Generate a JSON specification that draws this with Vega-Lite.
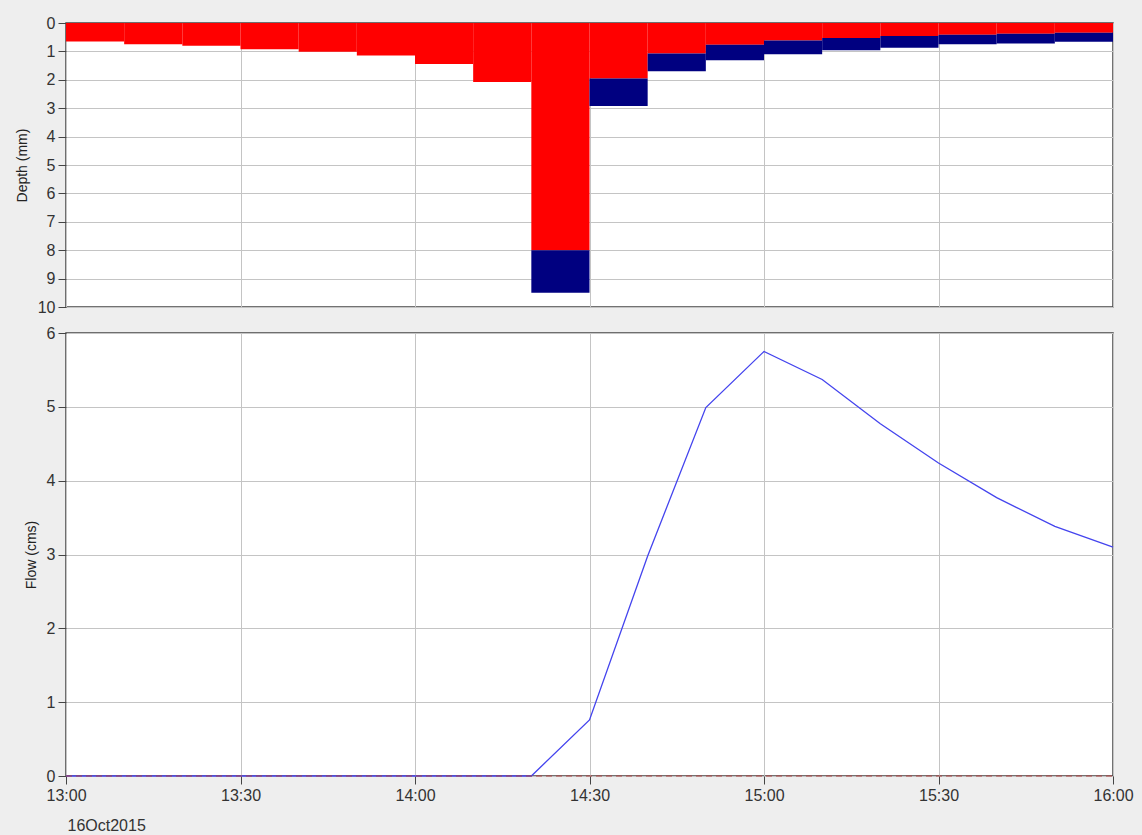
{
  "$schema": "https://vega.github.io/schema/vega-lite/v6.json",
  "background": "#eeeeee",
  "padding": {"left": 14, "top": 14, "right": 12, "bottom": 2},
  "spacing": 8,
  "config": {
    "font": "Liberation Sans",
    "view": {"fill": "white", "stroke": "#444444", "strokeWidth": 1.5},
    "axis": {
      "labelFont": "Liberation Sans",
      "labelFontSize": 16,
      "labelColor": "#333333",
      "labelOverlap": false,
      "titleFont": "Liberation Sans",
      "titleFontSize": 14,
      "titleFontWeight": "normal",
      "titleColor": "#222222",
      "gridColor": "#c4c4c4",
      "gridWidth": 1,
      "domain": false,
      "tickColor": "#444444",
      "tickSize": 8
    }
  },
  "datasets": {
    "rain": [
      {"start": "2015-10-16 13:00", "end": "2015-10-16 13:10", "loss": 0.65, "total": 0.65},
      {"start": "2015-10-16 13:10", "end": "2015-10-16 13:20", "loss": 0.75, "total": 0.75},
      {"start": "2015-10-16 13:20", "end": "2015-10-16 13:30", "loss": 0.80, "total": 0.80},
      {"start": "2015-10-16 13:30", "end": "2015-10-16 13:40", "loss": 0.92, "total": 0.92},
      {"start": "2015-10-16 13:40", "end": "2015-10-16 13:50", "loss": 1.01, "total": 1.01},
      {"start": "2015-10-16 13:50", "end": "2015-10-16 14:00", "loss": 1.14, "total": 1.14},
      {"start": "2015-10-16 14:00", "end": "2015-10-16 14:10", "loss": 1.44, "total": 1.44},
      {"start": "2015-10-16 14:10", "end": "2015-10-16 14:20", "loss": 2.08, "total": 2.08},
      {"start": "2015-10-16 14:20", "end": "2015-10-16 14:30", "loss": 8.00, "total": 9.50},
      {"start": "2015-10-16 14:30", "end": "2015-10-16 14:40", "loss": 1.95, "total": 2.92},
      {"start": "2015-10-16 14:40", "end": "2015-10-16 14:50", "loss": 1.07, "total": 1.70},
      {"start": "2015-10-16 14:50", "end": "2015-10-16 15:00", "loss": 0.77, "total": 1.31},
      {"start": "2015-10-16 15:00", "end": "2015-10-16 15:10", "loss": 0.62, "total": 1.10},
      {"start": "2015-10-16 15:10", "end": "2015-10-16 15:20", "loss": 0.53, "total": 0.96},
      {"start": "2015-10-16 15:20", "end": "2015-10-16 15:30", "loss": 0.46, "total": 0.87},
      {"start": "2015-10-16 15:30", "end": "2015-10-16 15:40", "loss": 0.41, "total": 0.75},
      {"start": "2015-10-16 15:40", "end": "2015-10-16 15:50", "loss": 0.38, "total": 0.72},
      {"start": "2015-10-16 15:50", "end": "2015-10-16 16:00", "loss": 0.34, "total": 0.66}
    ],
    "flow": [
      {"time": "2015-10-16 13:00", "flow": 0, "observed": 0},
      {"time": "2015-10-16 13:10", "flow": 0, "observed": 0},
      {"time": "2015-10-16 13:20", "flow": 0, "observed": 0},
      {"time": "2015-10-16 13:30", "flow": 0, "observed": 0},
      {"time": "2015-10-16 13:40", "flow": 0, "observed": 0},
      {"time": "2015-10-16 13:50", "flow": 0, "observed": 0},
      {"time": "2015-10-16 14:00", "flow": 0, "observed": 0},
      {"time": "2015-10-16 14:10", "flow": 0, "observed": 0},
      {"time": "2015-10-16 14:20", "flow": 0, "observed": 0},
      {"time": "2015-10-16 14:30", "flow": 0.76, "observed": 0},
      {"time": "2015-10-16 14:40", "flow": 2.98, "observed": 0},
      {"time": "2015-10-16 14:50", "flow": 4.99, "observed": 0},
      {"time": "2015-10-16 15:00", "flow": 5.75, "observed": 0},
      {"time": "2015-10-16 15:10", "flow": 5.37, "observed": 0},
      {"time": "2015-10-16 15:20", "flow": 4.77, "observed": 0},
      {"time": "2015-10-16 15:30", "flow": 4.24, "observed": 0},
      {"time": "2015-10-16 15:40", "flow": 3.77, "observed": 0},
      {"time": "2015-10-16 15:50", "flow": 3.38, "observed": 0},
      {"time": "2015-10-16 16:00", "flow": 3.10, "observed": 0}
    ]
  },
  "vconcat": [
    {
      "width": 1047,
      "height": 284,
      "data": {"name": "rain"},
      "encoding": {
        "x": {
          "field": "start", "type": "temporal",
          "scale": {"domain": [{"year": 2015, "month": 10, "date": 16, "hours": 13}, {"year": 2015, "month": 10, "date": 16, "hours": 16}]},
          "axis": {"title": null, "labels": false, "ticks": false, "grid": true,
            "values": [{"year": 2015, "month": 10, "date": 16, "hours": 13}, {"year": 2015, "month": 10, "date": 16, "hours": 13, "minutes": 30}, {"year": 2015, "month": 10, "date": 16, "hours": 14}, {"year": 2015, "month": 10, "date": 16, "hours": 14, "minutes": 30}, {"year": 2015, "month": 10, "date": 16, "hours": 15}, {"year": 2015, "month": 10, "date": 16, "hours": 15, "minutes": 30}, {"year": 2015, "month": 10, "date": 16, "hours": 16}]}
        },
        "x2": {"field": "end"},
        "y": {
          "field": "loss", "type": "quantitative",
          "scale": {"domain": [0, 10], "reverse": true},
          "axis": {"title": "Depth (mm)", "values": [0,1,2,3,4,5,6,7,8,9,10], "tickCount": 11, "labelOverlap": false, "format": "d", "labelPadding": 3, "titlePadding": 8}
        }
      },
      "layer": [
        {
          "mark": {"type": "rect", "color": "#ff0000"},
          "encoding": {
            "y2": {"datum": 0}
          }
        },
        {
          "mark": {"type": "rect", "color": "#000080"},
          "encoding": {
            "y2": {"field": "total"}
          }
        }
      ]
    },
    {
      "width": 1047,
      "height": 443,
      "data": {"name": "flow"},
      "encoding": {
        "x": {
          "field": "time", "type": "temporal",
          "scale": {"domain": [{"year": 2015, "month": 10, "date": 16, "hours": 13}, {"year": 2015, "month": 10, "date": 16, "hours": 16}]},
          "axis": {"title": "16Oct2015", "format": "%H:%M",
            "values": [{"year": 2015, "month": 10, "date": 16, "hours": 13}, {"year": 2015, "month": 10, "date": 16, "hours": 13, "minutes": 30}, {"year": 2015, "month": 10, "date": 16, "hours": 14}, {"year": 2015, "month": 10, "date": 16, "hours": 14, "minutes": 30}, {"year": 2015, "month": 10, "date": 16, "hours": 15}, {"year": 2015, "month": 10, "date": 16, "hours": 15, "minutes": 30}, {"year": 2015, "month": 10, "date": 16, "hours": 16}],
            "labelPadding": 3, "labelFlush": false, "titleAnchor": "start", "titleAlign": "left", "titleX": 1, "titleY": 54, "titleBaseline": "alphabetic", "titleFontSize": 16, "titleColor": "#333333"}
        }
      },
      "layer": [
        {
          "mark": {"type": "line", "color": "#4444ee", "strokeWidth": 1.3},
          "encoding": {
            "y": {
              "field": "flow", "type": "quantitative",
              "scale": {"domain": [0, 6]},
              "axis": {"title": "Flow (cms)", "values": [0,1,2,3,4,5,6], "format": "d", "labelPadding": 3, "titlePadding": 8}
            }
          }
        },
        {
          "mark": {"type": "line", "color": "#b04040", "strokeWidth": 1, "strokeDash": [6, 4]},
          "encoding": {
            "y": {"field": "observed", "type": "quantitative"}
          }
        }
      ]
    }
  ]
}
